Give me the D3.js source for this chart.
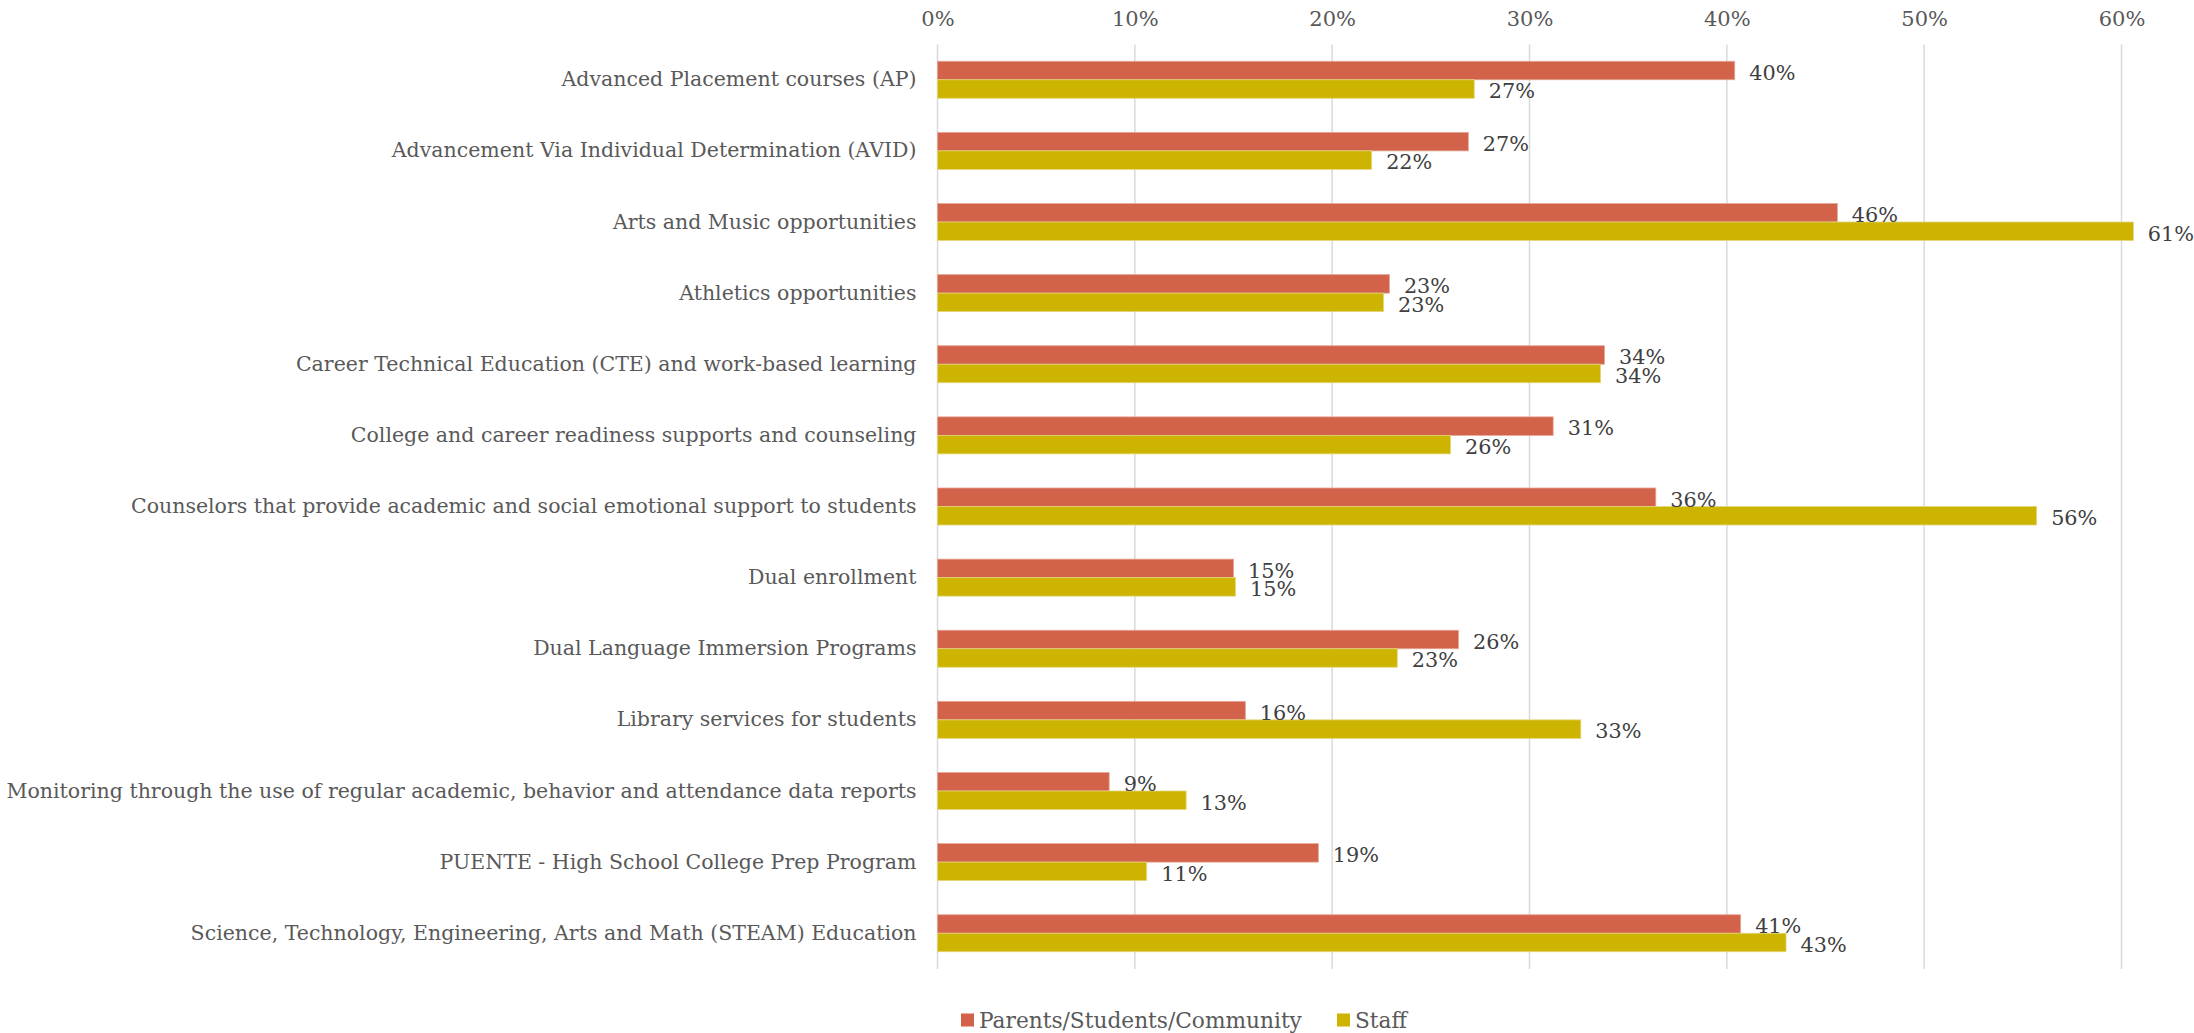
<!DOCTYPE html>
<html>
<head>
<meta charset="utf-8">
<script src="https://cdn.jsdelivr.net/npm/d3@7"></script>
<style>
  html, body { margin: 0; padding: 0; background: #fff; }
  svg { display: block; }
</style>
</head>
<body>
<svg id="chart" width="2194" height="1033"></svg>
<script>
const categories = [
  "Advanced Placement courses (AP)",
  "Advancement Via Individual Determination (AVID)",
  "Arts and Music opportunities",
  "Athletics opportunities",
  "Career Technical Education (CTE) and work-based learning",
  "College and career readiness supports and counseling",
  "Counselors that provide academic and social emotional support to students",
  "Dual enrollment",
  "Dual Language Immersion Programs",
  "Library services for students",
  "Monitoring through the use of regular academic, behavior and attendance data reports",
  "PUENTE - High School College Prep Program",
  "Science, Technology, Engineering, Arts and Math (STEAM) Education"
];
const parents = [40.4, 26.9, 45.6, 22.9, 33.8, 31.2, 36.4, 15.0, 26.4, 15.6, 8.7, 19.3, 40.7];
const staff   = [27.2, 22.0, 60.6, 22.6, 33.6, 26.0, 55.7, 15.1, 23.3, 32.6, 12.6, 10.6, 43.0];
const seriesNames = ["Parents/Students/Community", "Staff"];
const xTicks = [0, 10, 20, 30, 40, 50, 60];

const colors = ["#D2634A", "#CDB400"];
const strokes = ["#E7A593", "#E3D67A"];
const FONT = "'DejaVu Serif', Georgia, serif";

const svg = d3.select("#chart");

const x = d3.scaleLinear().domain([0, 60]).range([937.5, 2121.5]);
const y = d3.scaleBand().domain(categories).range([44.2, 968.8]).paddingInner(0).paddingOuter(0);
const barH = 18.5;
const sub = d3.scaleBand().domain([0, 1]).range([y.bandwidth() / 2 - barH, y.bandwidth() / 2 + barH]);

// gridlines
svg.append("g")
  .selectAll("line")
  .data(xTicks)
  .join("line")
  .attr("x1", d => x(d)).attr("x2", d => x(d))
  .attr("y1", 44.5).attr("y2", 969)
  .attr("stroke", "#D9D9D9")
  .attr("stroke-width", 1.5);

// top axis labels
const axis = d3.axisTop(x).tickValues(xTicks).tickFormat(d => d + "%").tickSize(0).tickPadding(0);
const axG = svg.append("g").attr("transform", "translate(0,26)").call(axis);
axG.select(".domain").remove();
axG.selectAll("text")
  .attr("font-family", FONT)
  .attr("font-size", "21px")
  .attr("fill", "#595959")
  .attr("dy", "0");

// category labels
const yAxis = d3.axisLeft(y).tickSize(0).tickPadding(0);
const yG = svg.append("g").attr("transform", "translate(916.5,0)").call(yAxis);
yG.select(".domain").remove();
yG.selectAll("text")
  .attr("font-family", FONT)
  .attr("font-size", "20.5px")
  .attr("fill", "#595959");

// bars
const data = [];
categories.forEach((c, i) => {
  data.push({ c, s: 0, v: parents[i] });
  data.push({ c, s: 1, v: staff[i] });
});

svg.append("g")
  .selectAll("rect")
  .data(data)
  .join("rect")
  .attr("x", x(0))
  .attr("y", d => y(d.c) + sub(d.s))
  .attr("width", d => x(d.v) - x(0))
  .attr("height", sub.bandwidth())
  .attr("fill", d => colors[d.s])
  .attr("stroke", d => strokes[d.s])
  .attr("stroke-width", 0.8);

// data labels
svg.append("g")
  .selectAll("text")
  .data(data)
  .join("text")
  .attr("x", d => x(d.v) + 14.5)
  .attr("y", d => y(d.c) + sub(d.s) + sub.bandwidth() / 2 + 2)
  .attr("dy", "0.35em")
  .attr("font-family", FONT)
  .attr("font-size", "20.8px")
  .attr("fill", "#404040")
  .text(d => Math.round(d.v) + "%");

// legend
const legend = svg.append("g").attr("transform", "translate(961,1020)");
const lx = [0, 376];
seriesNames.forEach((n, i) => {
  const g = legend.append("g").attr("transform", `translate(${lx[i]},0)`);
  g.append("rect").attr("x", 0).attr("y", -6.5).attr("width", 13).attr("height", 13).attr("fill", colors[i]);
  g.append("text")
    .attr("x", 18).attr("y", 0).attr("dy", "0.35em")
    .attr("font-family", FONT)
    .attr("font-size", "21.7px")
    .attr("fill", "#595959")
    .text(n);
});
</script>
</body>
</html>
